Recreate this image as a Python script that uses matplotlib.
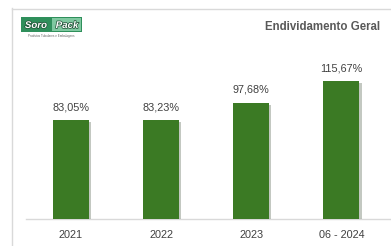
import matplotlib.pyplot as plt
from matplotlib.patches import Rectangle
import matplotlib.patheffects as pe

categorias = ["2021", "2022", "2023", "06 - 2024"]
valores = [83.05, 83.23, 97.68, 115.67]
rotulos = ["83,05%", "83,23%", "97,68%", "115,67%"]

plt.rcParams["font.family"] = ["Liberation Sans", "DejaVu Sans"]

W, H = 391, 246
fig = plt.figure(figsize=(W / 100, H / 100), dpi=100)
fig.patch.set_facecolor("white")

# moldura do cartão (linha esquerda e superior)
fig.add_artist(plt.Line2D([11.5 / W, 11.5 / W], [0, 1 - 8 / H], color="#d9d9d9", lw=1))
fig.add_artist(plt.Line2D([11.5 / W, 1], [1 - 8.5 / H, 1 - 8.5 / H], color="#d9d9d9", lw=1))

# eixo principal
ax = fig.add_axes([26 / W, 1 - 219 / H, (391 - 26) / W, (219 - 30) / H])
x = range(len(categorias))
bars = ax.bar(x, valores, width=0.4, color="#3b7a24", zorder=3,
              path_effects=[pe.SimplePatchShadow(offset=(1.5, -1.5), alpha=0.25), pe.Normal()])
ax.set_xlim(-0.5, 3.55)
ax.set_ylim(0, 158.5)
for b, r in zip(bars, rotulos):
    ax.text(b.get_x() + b.get_width() / 2, b.get_height() + 6.5, r,
            ha="center", va="bottom", fontsize=7.8, color="#404040")

ax.set_xticks(list(x))
ax.set_xticklabels(categorias, fontsize=7.8, color="#404040")
ax.tick_params(axis="x", length=0, pad=8)
ax.set_yticks([])
for s in ["top", "right", "left"]:
    ax.spines[s].set_visible(False)
ax.spines["bottom"].set_color("#d9d9d9")
ax.spines["bottom"].set_linewidth(1)

# título
fig.text(380 / W, 1 - 27 / H, "Endividamento Geral", ha="right", va="center",
         fontsize=8.3, fontweight="bold", color="#595959")

# logotipo aproximado
fig.add_artist(Rectangle((21 / W, 1 - 32 / H), 61 / W, 15 / H, facecolor="#2f8f5b",
                         edgecolor="none", transform=fig.transFigure))
fig.add_artist(Rectangle((52 / W, 1 - 31 / H), 29 / W, 13 / H, facecolor="#7fc8a0",
                         edgecolor="none", transform=fig.transFigure))
fig.text(36 / W, 1 - 25 / H, "Soro", ha="center", va="center", fontsize=7,
         fontstyle="italic", fontweight="bold", color="white",
         path_effects=[pe.withStroke(linewidth=1, foreground="#1d4f33")])
fig.text(67 / W, 1 - 25 / H, "Pack", ha="center", va="center", fontsize=7,
         fontstyle="italic", fontweight="bold", color="white",
         path_effects=[pe.withStroke(linewidth=1, foreground="#1d4f33")])
fig.text(51 / W, 1 - 35.5 / H, "Produtos Tubulares e Embalagens", ha="center", va="center",
         fontsize=2.2, color="#666666")

fig.savefig("out.png", dpi=100)
